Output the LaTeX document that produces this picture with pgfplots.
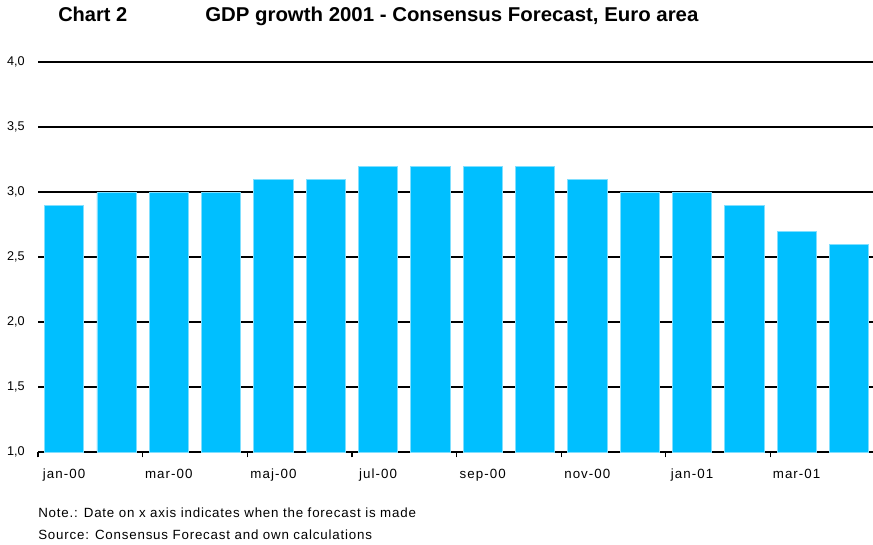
\documentclass[border=0pt]{standalone}
\usepackage{pgfplots}
\pgfplotsset{compat=1.18}
\usepackage{fontspec}
\setmainfont{Liberation Sans}
\newfontfamily\spacedfont[LetterSpace=8]{Liberation Sans}
\newfontfamily\notefont[LetterSpace=6]{Liberation Sans}
\definecolor{barblue}{HTML}{00BFFF}
\definecolor{baredge}{HTML}{80DFFF}
\begin{document}
\begin{tikzpicture}
\useasboundingbox (-28.5pt,-69pt) rectangle (626.25pt,339pt);
\begin{axis}[
  at={(0pt,0pt)}, anchor=south west,
  scale only axis, width=626.25pt, height=292.5pt,
  xmin=-0.5, xmax=15.46, ymin=1, ymax=4,
  axis x line*=bottom, axis y line*=left,
  y axis line style={draw=none},
  x axis line style={line width=0.9pt},
  xtick={-0.5,1.5,...,13.5}, xticklabels={},
  extra x ticks={0,2,...,14},
  extra x tick labels={jan-00,mar-00,maj-00,jul-00,sep-00,nov-00,jan-01,mar-01},
  extra x tick style={major tick length=0pt, xticklabel style={yshift=-9pt, font=\spacedfont\fontsize{10}{12}\selectfont}},
  tick align=outside, major tick length=4pt,
  x tick style={line width=0.9pt, black},
  ytick={1,1.5,...,4}, y tick style={draw=none},
  ymajorgrids, grid style={black, line width=0.9pt},
  yticklabel style={xshift=-2.5pt, font=\fontsize{9.5}{11}\selectfont},
  /pgf/number format/.cd, use comma, fixed, fixed zerofill, precision=1, assume math mode=true,
  /pgfplots/.cd,
  ybar, bar width=0.75,
]
\addplot[fill=barblue, draw=baredge, line width=0.5pt] coordinates {
(0,2.9) (1,3.0) (2,3.0) (3,3.0) (4,3.1) (5,3.1) (6,3.2) (7,3.2)
(8,3.2) (9,3.2) (10,3.1) (11,3.0) (12,3.0) (13,2.9) (14,2.7) (15,2.6)};
\end{axis}
\node[anchor=base west, font=\bfseries\fontsize{15}{17}\selectfont, inner sep=0pt] at (15pt,322.5pt) {Chart 2};
\node[anchor=base west, font=\bfseries\fontsize{15}{17}\selectfont, inner sep=0pt] at (125.25pt,322.5pt) {\scalebox{1.02}[1]{GDP growth 2001 - Consensus Forecast, Euro area}};
\node[anchor=base west, font=\notefont\fontsize{10}{12}\selectfont, inner sep=0pt] at (0pt,-48.75pt) {Note.: Date on x axis indicates when the forecast is made};
\node[anchor=base west, font=\notefont\fontsize{10}{12}\selectfont, inner sep=0pt] at (0pt,-65.25pt) {Source: Consensus Forecast and own calculations};
\end{tikzpicture}
\end{document}
